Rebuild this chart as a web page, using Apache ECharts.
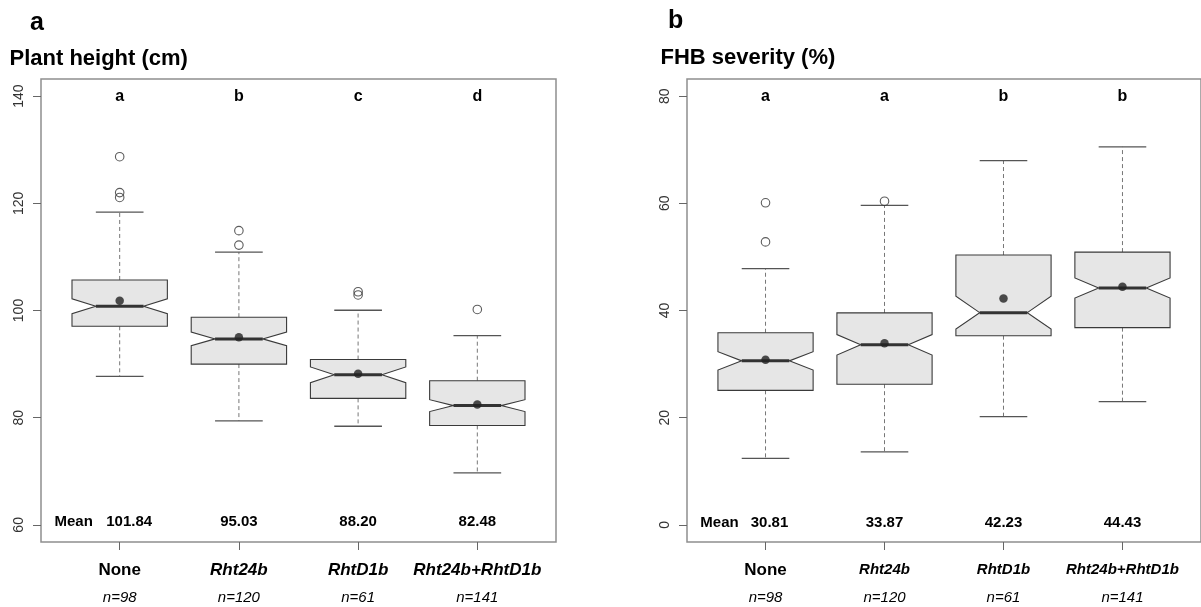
<!DOCTYPE html>
<html><head><meta charset="utf-8">
<script src="https://cdn.jsdelivr.net/npm/echarts@6/dist/echarts.min.js"></script>
<style>html,body{margin:0;padding:0;background:#fff}#c{width:1201px;height:607px}</style>
</head><body><div id="c"></div><script>
// ---- data ----
const categories = ['None', 'Rht24b', 'RhtD1b', 'Rht24b+RhtD1b'];
const sampleSizes = [98, 120, 61, 141];

// Panel a: Plant height (cm)
const heightLowerWhisker = [87.7, 79.4, 78.4, 69.7];
const heightQ1 = [97.05, 90.0, 83.6, 78.55];
const heightMedian = [100.8, 94.7, 88.0, 82.25];
const heightQ3 = [105.7, 98.75, 90.85, 86.9];
const heightUpperWhisker = [118.35, 110.9, 100.05, 95.3];
const heightMean = [101.84, 95.03, 88.20, 82.48];
const heightOutliers = [[1, 128.7], [1, 122.0], [1, 121.1], [2, 114.9], [2, 112.2], [3, 103.5], [3, 102.9], [4, 100.2]];
const heightLetters = ['a', 'b', 'c', 'd'];
const heightTicks = [60, 80, 100, 120, 140];

// Panel b: FHB severity (%)
const fhbLowerWhisker = [12.4, 13.6, 20.2, 23.0];
const fhbQ1 = [25.1, 26.25, 35.3, 36.8];
const fhbMedian = [30.6, 33.6, 39.6, 44.2];
const fhbQ3 = [35.85, 39.55, 50.35, 50.9];
const fhbUpperWhisker = [47.8, 59.6, 67.95, 70.55];
const fhbMean = [30.81, 33.87, 42.23, 44.43];
const fhbOutliers = [[1, 60.1], [1, 52.8], [2, 60.4]];
const fhbLetters = ['a', 'a', 'b', 'b'];
const fhbTicks = [0, 20, 40, 60, 80];

// ---- rendering ----
const FONT = '"Liberation Sans", Arial, Helvetica, sans-serif';
const chart = echarts.init(document.getElementById('c'), null, {renderer: 'canvas'});

function boxData(lw, q1, md, q3, uw) {
  return categories.map((c, i) => [i + 1, lw[i], q1[i], md[i], q3[i], uw[i], sampleSizes[i]]);
}

function boxRender(params, api) {
  const x = api.value(0), lw = api.value(1), q1 = api.value(2), md = api.value(3),
        q3 = api.value(4), uw = api.value(5), n = api.value(6);
  const hw = api.size([0.4, 0])[0];
  const ch = api.size([0.2, 0])[0];
  const nt = 1.58 * (q3 - q1) / Math.sqrt(n);
  const P = (dx, v) => { const c = api.coord([x, v]); return [c[0] + dx, c[1]]; };
  const cx = api.coord([x, md])[0];
  const yq1 = api.coord([x, q1])[1], yq3 = api.coord([x, q3])[1];
  const ylw = api.coord([x, lw])[1], yuw = api.coord([x, uw])[1], ymd = api.coord([x, md])[1];
  const poly = [P(-hw, q1), P(hw, q1), P(hw, md - nt), P(hw / 2, md), P(hw, md + nt), P(hw, q3),
                P(-hw, q3), P(-hw, md + nt), P(-hw / 2, md), P(-hw, md - nt)];
  const dash = {stroke: '#777', lineWidth: 1, lineDash: [4, 3]};
  const cap = {stroke: '#555', lineWidth: 1.3};
  return {type: 'group', children: [
    {type: 'line', shape: {x1: cx, y1: yq3, x2: cx, y2: yuw}, style: dash},
    {type: 'line', shape: {x1: cx, y1: yq1, x2: cx, y2: ylw}, style: dash},
    {type: 'line', shape: {x1: cx - ch, y1: yuw, x2: cx + ch, y2: yuw}, style: cap},
    {type: 'line', shape: {x1: cx - ch, y1: ylw, x2: cx + ch, y2: ylw}, style: cap},
    {type: 'polygon', shape: {points: poly}, style: {fill: '#e6e6e6', stroke: '#3a3a3a', lineWidth: 1.1}},
    {type: 'line', shape: {x1: cx - hw / 2, y1: ymd, x2: cx + hw / 2, y2: ymd}, style: {stroke: '#333', lineWidth: 3}}
  ]};
}

function labelRender(letters, means, letterY, meanY, firstNumOffset) {
  return function (params, api) {
    const i = params.dataIndex;
    const x = api.value(0);
    const pl = api.coord([x, letterY]);
    const pm = api.coord([x, meanY]);
    const kids = [
      {type: 'text', x: pl[0], y: pl[1], style: {text: letters[i], font: 'bold 16px ' + FONT, fill: '#000', align: 'center', verticalAlign: 'middle'}},
      {type: 'text', x: pm[0] + (i === 0 ? firstNumOffset : 0), y: pm[1], style: {text: means[i].toFixed(2), font: 'bold 15px ' + FONT, fill: '#000', align: 'center', verticalAlign: 'middle'}}
    ];
    if (i === 0) {
      kids.push({type: 'text', x: pm[0] - 46, y: pm[1], style: {text: 'Mean', font: 'bold 15px ' + FONT, fill: '#000', align: 'center', verticalAlign: 'middle'}});
    }
    return {type: 'group', children: kids};
  };
}

function xAxisDef(gridIndex, geneSize) {
  return {
    type: 'value', gridIndex: gridIndex, min: 0.34, max: 4.66, position: 'bottom',
    splitLine: {show: false},
    axisLine: {show: false, onZero: false},
    axisTick: {show: true, customValues: [1, 2, 3, 4], length: 8, lineStyle: {color: '#666', width: 1}},
    axisLabel: {
      show: true, customValues: [1, 2, 3, 4], margin: 14,
      formatter: function (v) {
        const i = Math.round(v) - 1;
        const style = i === 0 ? 'nm' : 'gi';
        return '{' + style + '|' + categories[i] + '}\n{n|n=' + sampleSizes[i] + '}';
      },
      rich: {
        nm: {fontFamily: FONT, fontWeight: 'bold', fontSize: 17, lineHeight: 28, color: '#000'},
        gi: {fontFamily: FONT, fontWeight: 'bold', fontStyle: 'italic', fontSize: geneSize, lineHeight: 28, color: '#000'},
        n: {fontFamily: FONT, fontStyle: 'italic', fontSize: 15, lineHeight: 28, color: '#000'}
      }
    }
  };
}

function yAxisDef(gridIndex, min, max, ticks) {
  return {
    type: 'value', gridIndex: gridIndex, min: min, max: max,
    splitLine: {show: false},
    axisLine: {show: false, onZero: false},
    axisTick: {show: true, customValues: ticks, length: 8, lineStyle: {color: '#666', width: 1}},
    axisLabel: {show: true, customValues: ticks, rotate: 90, margin: 15, fontFamily: FONT, fontSize: 14, color: '#333'}
  };
}

const option = {
  backgroundColor: '#fff',
  animation: false,
  grid: [
    {left: 41, top: 79, width: 515, height: 463, show: true, borderColor: '#8f8f8f', borderWidth: 1.5, backgroundColor: 'transparent'},
    {left: 687, top: 79, width: 515, height: 463, show: true, borderColor: '#8f8f8f', borderWidth: 1.5, backgroundColor: 'transparent'}
  ],
  xAxis: [xAxisDef(0, 17), xAxisDef(1, 15)],
  yAxis: [yAxisDef(0, 56.8, 143.2, heightTicks), yAxisDef(1, -3.2, 83.2, fhbTicks)],
  graphic: [
    {type: 'text', x: 30, y: 23, style: {text: 'a', font: 'bold 25px ' + FONT, fill: '#000', verticalAlign: 'middle'}},
    {type: 'text', x: 9.5, y: 59, style: {text: 'Plant height (cm)', font: 'bold 22px ' + FONT, fill: '#000', verticalAlign: 'middle'}},
    {type: 'text', x: 668, y: 21, style: {text: 'b', font: 'bold 25px ' + FONT, fill: '#000', verticalAlign: 'middle'}},
    {type: 'text', x: 660.5, y: 57.5, style: {text: 'FHB severity (%)', font: 'bold 22px ' + FONT, fill: '#000', verticalAlign: 'middle'}}
  ],
  series: [
    {type: 'custom', xAxisIndex: 0, yAxisIndex: 0, renderItem: boxRender, encode: {x: 0, y: [1, 2, 3, 4, 5]},
     data: boxData(heightLowerWhisker, heightQ1, heightMedian, heightQ3, heightUpperWhisker), z: 2},
    {type: 'scatter', xAxisIndex: 0, yAxisIndex: 0, symbol: 'circle', symbolSize: 8.5,
     itemStyle: {color: 'rgba(255,255,255,0)', borderColor: '#333', borderWidth: 1.1}, data: heightOutliers, z: 3},
    {type: 'scatter', xAxisIndex: 0, yAxisIndex: 0, symbol: 'circle', symbolSize: 8.5,
     itemStyle: {color: '#222'}, data: heightMean.map((m, i) => [i + 1, m]), z: 4},
    {type: 'custom', xAxisIndex: 0, yAxisIndex: 0, renderItem: labelRender(heightLetters, heightMean, 140, 60.5, 9.5),
     encode: {x: 0, y: 1}, data: categories.map((c, i) => [i + 1, 100]), z: 5},

    {type: 'custom', xAxisIndex: 1, yAxisIndex: 1, renderItem: boxRender, encode: {x: 0, y: [1, 2, 3, 4, 5]},
     data: boxData(fhbLowerWhisker, fhbQ1, fhbMedian, fhbQ3, fhbUpperWhisker), z: 2},
    {type: 'scatter', xAxisIndex: 1, yAxisIndex: 1, symbol: 'circle', symbolSize: 8.5,
     itemStyle: {color: 'rgba(255,255,255,0)', borderColor: '#333', borderWidth: 1.1}, data: fhbOutliers, z: 3},
    {type: 'scatter', xAxisIndex: 1, yAxisIndex: 1, symbol: 'circle', symbolSize: 8.5,
     itemStyle: {color: '#222'}, data: fhbMean.map((m, i) => [i + 1, m]), z: 4},
    {type: 'custom', xAxisIndex: 1, yAxisIndex: 1, renderItem: labelRender(fhbLetters, fhbMean, 80, 0.3, 4),
     encode: {x: 0, y: 1}, data: categories.map((c, i) => [i + 1, 40]), z: 5}
  ]
};
chart.setOption(option);
</script></body></html>
